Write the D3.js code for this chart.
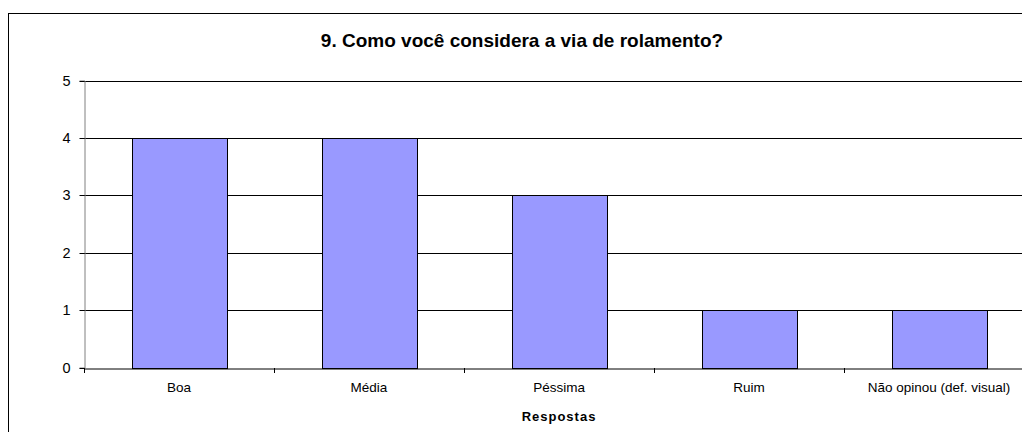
<!DOCTYPE html>
<html>
<head>
<meta charset="utf-8">
<script src="https://cdn.jsdelivr.net/npm/d3@7"></script>
<style>
  body { margin: 0; background: #fff; }
  text { font-family: "Liberation Sans", Arial, sans-serif; fill: #000; }
</style>
</head>
<body>
<svg id="chart" width="1022" height="432"></svg>
<script>
// Chart data
const categories = ["Boa", "Média", "Péssima", "Ruim", "Não opinou (def. visual)"];
const values = [4, 4, 3, 1, 1];
const yTicks = [0, 1, 2, 3, 4, 5];
const title = "9. Como você considera a via de rolamento?";
const xTitle = "Respostas";

const svg = d3.select("#chart");

// plot area (runs past the right edge, like the original)
const plotL = 84, plotR = 1034, plotT = 80.5, plotB = 367.5;

const x = d3.scaleBand().domain(categories).range([plotL, plotR]).paddingInner(0.5).paddingOuter(0.25);
const xb = d3.scaleBand().domain(categories).range([plotL, plotR]);
const y = d3.scaleLinear().domain([0, 5]).range([plotB, plotT]);

// outer frame
svg.append("rect")
  .attr("x", 8.5).attr("y", 13.5)
  .attr("width", 1040).attr("height", 440)
  .attr("fill", "none").attr("stroke", "#000").attr("stroke-width", 1);

// gridlines
svg.append("g").selectAll("line")
  .data(yTicks.filter(d => d > 0))
  .join("line")
    .attr("x1", plotL).attr("x2", plotR)
    .attr("y1", d => Math.round(y(d)) + 0.5).attr("y2", d => Math.round(y(d)) + 0.5)
    .attr("stroke", "#000").attr("stroke-width", 1);

// bars
svg.append("g").selectAll("rect")
  .data(values)
  .join("rect")
    .attr("x", (d, i) => Math.round(x(categories[i])) + 0.5)
    .attr("y", d => Math.round(y(d)) + 0.5)
    .attr("width", x.bandwidth())
    .attr("height", d => Math.round(y(0)) - Math.round(y(d)))
    .attr("fill", "#9999ff")
    .attr("stroke", "#000").attr("stroke-width", 1);

// y axis
const yAxis = svg.append("g")
  .attr("transform", `translate(${plotL + 0.5},0)`)
  .call(d3.axisLeft(y).tickValues(yTicks).tickSize(5).tickPadding(9).tickFormat(d3.format("d")));
yAxis.select(".domain").attr("stroke", "#808080");
yAxis.selectAll(".tick line").attr("stroke", "#000");
yAxis.selectAll(".tick").attr("transform", d => `translate(0,${Math.round(y(d)) + 0.5})`);
yAxis.selectAll("text").style("font-size", "14.5px").attr("fill", "#000");

// x axis
const xAxis = svg.append("g")
  .attr("transform", `translate(0,${Math.round(plotB) + 0.5})`)
  .call(d3.axisBottom(xb).tickSize(0).tickPadding(14));
xAxis.select(".domain").attr("stroke", "#000");
xAxis.selectAll("text").style("font-size", "13.5px").attr("fill", "#000");

// category boundary ticks
svg.append("g").selectAll("line")
  .data(categories)
  .join("line")
    .attr("x1", d => Math.round(xb(d)) + 0.5).attr("x2", d => Math.round(xb(d)) + 0.5)
    .attr("y1", Math.round(plotB)).attr("y2", Math.round(plotB) + 5)
    .attr("stroke", "#000");

// titles
svg.append("text")
  .attr("x", 522).attr("y", 47)
  .attr("text-anchor", "middle")
  .style("font-size", "19px").style("font-weight", "bold")
  .text(title);

svg.append("text")
  .attr("x", (plotL + plotR) / 2).attr("y", 421)
  .attr("text-anchor", "middle")
  .style("font-size", "13px").style("font-weight", "bold")
  .style("letter-spacing", "1px")
  .text(xTitle);
</script>
</body>
</html>
